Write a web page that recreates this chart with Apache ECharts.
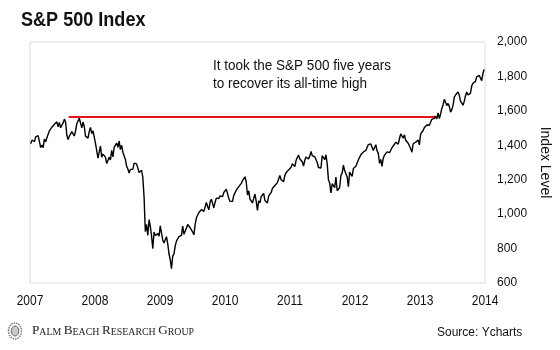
<!DOCTYPE html>
<html>
<head>
<meta charset="utf-8">
<script src="https://cdn.jsdelivr.net/npm/echarts@6/dist/echarts.min.js"></script>
<style>html,body{margin:0;padding:0;background:#fff}#c{width:560px;height:350px}</style>
</head>
<body>
<div id="c"></div>
<script>
// Weekly closes (Fridays)
const firstWeek = '2007-01-05';
const values2007 = [1409,1430,1430,1422,1449,1438,1456,1451,1387,1402,1386,1437,1421,1444,1452,1484,1494,1505,1505,1522,1515,1536,1507,1533,1502,1503,1530,1552,1534,1458,1433,1453,1445,1479,1474,1454,1484,1525,1527,1557,1562,1501,1535,1509,1453,1458,1441,1481,1504,1468,1484,1478];
const values2008 = [1411,1401,1325,1331,1396,1331,1349,1353,1331,1294,1288,1330,1315,1370,1332,1390,1398,1413,1388,1425,1375,1400,1360,1360,1318,1278,1262,1239,1260,1257,1260,1296,1298,1292,1283,1242,1252,1255,1213,1099,899,940,877,968,930,873,800,896,876,879,887,872];
const values2009 = [932,890,850,832,826,869,827,770,735,683,756,769,816,843,857,870,866,877,930,883,887,919,940,946,921,918,896,880,941,979,987,1010,1005,1026,1029,1016,1042,1068,1044,1025,1071,1087,1080,1036,1069,1093,1091,1091,1106,1106,1102,1126];
const values2010 = [1115,1145,1136,1092,1074,1066,1075,1109,1104,1139,1150,1160,1167,1179,1194,1192,1217,1187,1111,1136,1087,1089,1065,1092,1117,1076,1022,1078,1065,1102,1102,1121,1079,1071,1065,1104,1110,1126,1149,1146,1166,1176,1183,1183,1225,1200,1199,1189,1225,1240,1244,1257,1258];
const values2011 = [1272,1293,1283,1276,1311,1329,1343,1320,1321,1304,1279,1313,1332,1328,1320,1337,1364,1340,1338,1333,1331,1300,1271,1271,1268,1340,1344,1316,1345,1292,1199,1179,1124,1177,1174,1154,1216,1136,1131,1155,1225,1238,1285,1253,1264,1216,1159,1244,1255,1219,1265,1258];
const values2012 = [1278,1289,1315,1316,1345,1343,1361,1366,1370,1371,1404,1397,1408,1398,1370,1378,1403,1369,1353,1295,1318,1278,1325,1343,1335,1362,1354,1357,1363,1386,1391,1406,1418,1411,1407,1438,1466,1460,1441,1461,1429,1433,1412,1414,1380,1360,1409,1416,1418,1414,1430,1402];
const values2013 = [1466,1472,1486,1503,1513,1518,1520,1516,1518,1551,1561,1556,1569,1553,1588,1555,1582,1614,1634,1667,1650,1631,1643,1626,1593,1606,1632,1680,1692,1692,1710,1691,1656,1664,1633,1655,1688,1710,1692,1690,1703,1745,1760,1762,1771,1798,1804,1806,1805,1775,1818,1841];

// Previous all-time high line
const highLevel = 1565;
const highLineStart = '2007-08-06';
const highLineEnd = '2013-03-28';

const yearLabels = ['2007','2008','2009','2010','2011','2012','2013','2014'];
const yTicks = [600,800,1000,1200,1400,1600,1800,2000];

const titleText = 'S&P 500 Index';
const noteLines = ['It took the S&P 500 five years', 'to recover its all-time high'];
const yAxisName = 'Index Level';
const sourceText = 'Source: Ycharts';
const brandWords = ['Palm', 'Beach', 'Research', 'Group'];

const allValues = [].concat(values2007, values2008, values2009, values2010, values2011, values2012, values2013);
const start = new Date(firstWeek + 'T00:00:00Z').getTime();
const week = 7 * 24 * 3600 * 1000;
const series = allValues.map((v, i) => [start + i * week, v]);
const highLine = [[highLineStart, highLevel], [highLineEnd, highLevel]];

const brandRich = brandWords.map(w => '{b|' + w[0].toUpperCase() + '}{s|' + w.slice(1).toUpperCase() + '}').join('{s| }');

const chart = echarts.init(document.getElementById('c'), null, {renderer: 'canvas'});
const labelFont = '"Liberation Sans", Arial, sans-serif';
chart.setOption({
  animation: false,
  backgroundColor: '#fff',
  grid: [
    {left: 30, right: 69, top: 42, bottom: 67, show: true, borderColor: '#dcdcdc', borderWidth: 1, backgroundColor: 'transparent'}
  ],
  xAxis: [
    {type: 'time', min: '2007-01-01', max: '2014-01-01',
      axisLine: {show: false}, axisTick: {show: false}, splitLine: {show: false}, axisLabel: {show: false}}
  ],
  yAxis: [
    {type: 'value', position: 'right', min: yTicks[0], max: yTicks[yTicks.length - 1], interval: 200,
      axisLine: {show: false}, axisTick: {show: false}, splitLine: {show: false},
      axisLabel: {margin: 12, fontFamily: labelFont, fontSize: 12, color: '#111', formatter: v => v.toLocaleString('en-US')},
      name: yAxisName, nameLocation: 'middle', nameRotate: -90, nameGap: 52,
      nameTextStyle: {fontFamily: labelFont, fontSize: 14, color: '#111'}}
  ],
  series: [
    {type: 'line', name: 'recovery', data: highLine, symbol: 'none',
      lineStyle: {color: '#e3151a', width: 2}, z: 2},
    {type: 'line', name: 'S&P 500', data: series, symbol: 'none',
      lineStyle: {color: '#000', width: 1.4}, z: 3}
  ]
});

// Narrow-looking texts drawn as graphic text, positions for the years from the axis scale
const yearGraphics = yearLabels.map(y => ({
  type: 'text',
  x: chart.convertToPixel({xAxisIndex: 0}, new Date(y + '-01-01T00:00:00Z').getTime()),
  y: 301, scaleX: 0.8,
  style: {text: y, font: '15px "Liberation Sans", Arial, sans-serif', fill: '#111', textAlign: 'center', textVerticalAlign: 'middle'}
}));

chart.setOption({
  graphic: [
    {type: 'text', x: 21, y: 20, scaleX: 0.86,
      style: {text: titleText, font: 'bold 21px "Liberation Sans", Arial, sans-serif', fill: '#111', textAlign: 'left', textVerticalAlign: 'middle'}},
    {type: 'text', x: 213, y: 66, scaleX: 0.965,
      style: {text: noteLines[0], font: '14px "Liberation Sans", Arial, sans-serif', fill: '#111', textAlign: 'left', textVerticalAlign: 'middle'}},
    {type: 'text', x: 213, y: 84, scaleX: 0.965,
      style: {text: noteLines[1], font: '14px "Liberation Sans", Arial, sans-serif', fill: '#111', textAlign: 'left', textVerticalAlign: 'middle'}},
    {type: 'text', x: 437, y: 333,
      style: {text: sourceText, font: '12px "Liberation Sans", Arial, sans-serif', fill: '#111', textAlign: 'left', textVerticalAlign: 'middle'}},
    {type: 'text', x: 32, y: 331,
      style: {text: brandRich, textAlign: 'left', textVerticalAlign: 'middle', rich: {
        b: {fontFamily: '"Liberation Serif", "DejaVu Serif", serif', fontSize: 13.2, fill: '#222', verticalAlign: 'bottom'},
        s: {fontFamily: '"Liberation Serif", "DejaVu Serif", serif', fontSize: 9.9, fill: '#222', verticalAlign: 'bottom'}
      }}},
    {type: 'ellipse', shape: {cx: 15, cy: 331, rx: 6.5, ry: 8}, style: {fill: '#fff', stroke: '#777', lineWidth: 1.5, lineDash: [1.5, 1]}},
    {type: 'ellipse', shape: {cx: 15, cy: 331, rx: 3.8, ry: 5}, style: {fill: '#c8c8c8', stroke: '#666', lineWidth: 1}}
  ].concat(yearGraphics)
});
</script>
</body>
</html>
